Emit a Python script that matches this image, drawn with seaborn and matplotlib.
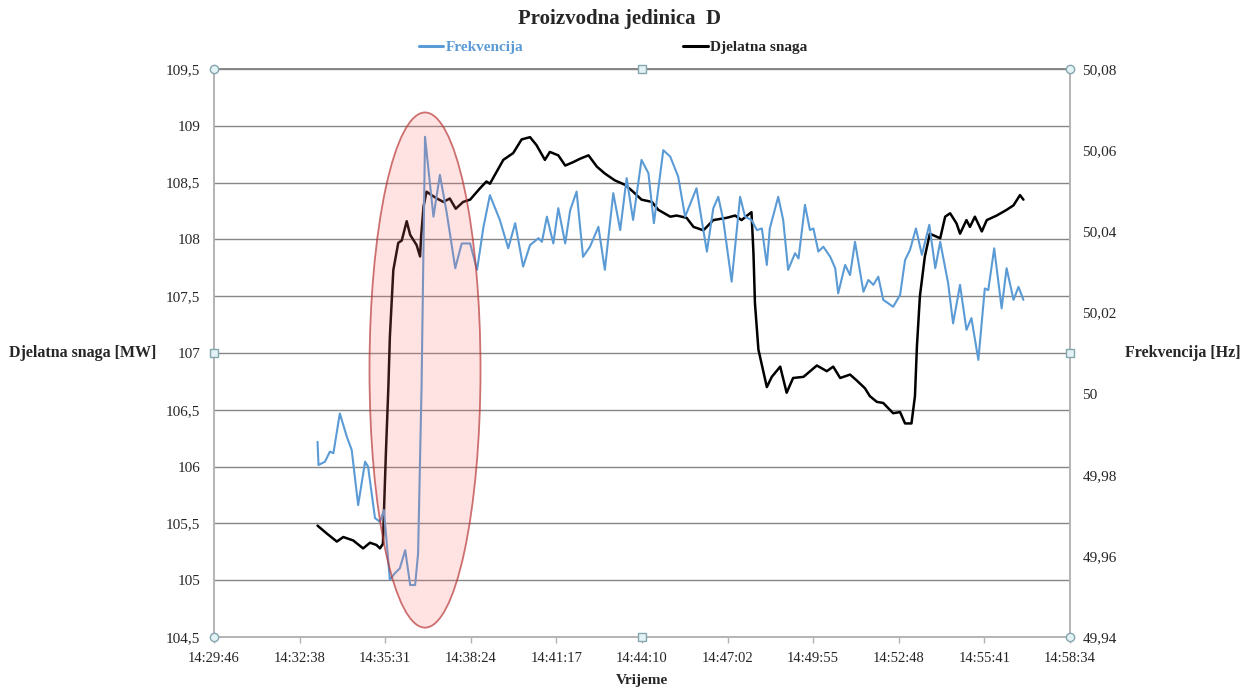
import numpy as np
import pandas as pd
import matplotlib
matplotlib.use("Agg")
import matplotlib.pyplot as plt
import matplotlib.dates as mdates
from matplotlib.patches import Ellipse
from matplotlib.ticker import FixedLocator, MultipleLocator, FuncFormatter
import seaborn as sns

# pocetak osi: 14:29:46 (0,604 dana), korak 0,002 dana
t0 = pd.Timestamp("2000-01-01 14:29:45.6")
x_labels = ["14:29:46", "14:32:38", "14:35:31", "14:38:24", "14:41:17", "14:44:10",
            "14:47:02", "14:49:55", "14:52:48", "14:55:41", "14:58:34"]

# Djelatna snaga [MW] - sekunde od 14:29:46
snaga_t = [209, 228, 248, 261, 281, 301, 315, 328, 335, 341, 343, 347, 352, 355, 362,
           372, 379, 389, 396, 409, 416, 418, 423, 429, 439, 450, 463, 476, 488, 503,
           517, 537, 550, 557, 584, 604, 621, 638, 651, 668, 678, 695, 709, 725, 739,
           756, 773, 789, 809, 830, 846, 863, 884, 897, 921, 934, 954, 968, 988, 1008,
           1035, 1052, 1065, 1085, 1089, 1092, 1099, 1116, 1126, 1143, 1156, 1169, 1190,
           1217, 1237, 1250, 1264, 1284, 1297, 1314, 1324, 1338, 1351, 1371, 1385, 1395,
           1408, 1415, 1419, 1425, 1435, 1445, 1466, 1476, 1486, 1499, 1506, 1519, 1526,
           1536, 1550, 1560, 1580, 1600, 1614, 1627, 1634]
snaga_mw = [105.48, 105.41, 105.34, 105.38, 105.35, 105.28, 105.33, 105.31, 105.28, 105.32,
            105.59, 106.12, 106.70, 107.14, 107.73, 107.97, 107.99, 108.16, 108.04, 107.95,
            107.85, 108.02, 108.29, 108.42, 108.39, 108.36, 108.33, 108.36, 108.27, 108.33,
            108.35, 108.45, 108.51, 108.49, 108.70, 108.76, 108.88, 108.90, 108.83, 108.70,
            108.77, 108.74, 108.65, 108.68, 108.71, 108.74, 108.64, 108.58, 108.52, 108.48,
            108.42, 108.35, 108.33, 108.26, 108.20, 108.21, 108.19, 108.11, 108.08, 108.17,
            108.19, 108.21, 108.17, 108.24, 107.88, 107.44, 107.03, 106.70, 106.79, 106.88,
            106.65, 106.78, 106.79, 106.89, 106.84, 106.88, 106.78, 106.81, 106.76, 106.69,
            106.62, 106.57, 106.56, 106.47, 106.48, 106.38, 106.38, 106.62, 107.06, 107.50,
            107.85, 108.05, 108.01, 108.20, 108.23, 108.14, 108.05, 108.17, 108.11, 108.20,
            108.07, 108.17, 108.21, 108.26, 108.30, 108.39, 108.35]

# Frekvencija [Hz] - sekunde od 14:29:46
frek_t = [209, 211, 224, 234, 241, 254, 268, 278, 291, 305, 311, 325, 335, 343, 355,
          365, 375, 386, 396, 406, 412, 419, 426, 433, 443, 456, 470, 487, 500, 517,
          531, 544, 557, 577, 594, 608, 624, 638, 655, 662, 672, 685, 695, 709, 719,
          732, 745, 759, 776, 789, 806, 820, 833, 846, 863, 877, 888, 907, 921, 937,
          951, 974, 995, 1008, 1018, 1028, 1045, 1062, 1072, 1085, 1096, 1106, 1116, 1122,
          1139, 1149, 1159, 1173, 1180, 1193, 1203, 1210, 1220, 1230, 1244, 1254, 1260,
          1274, 1284, 1294, 1311, 1321, 1331, 1341, 1351, 1371, 1385, 1395, 1405, 1417,
          1429, 1444, 1456, 1466, 1482, 1492, 1506, 1519, 1529, 1543, 1556, 1563, 1575,
          1590, 1600, 1614, 1624, 1634]
frek_hz = [49.9881, 49.9824, 49.9832, 49.9857, 49.9853, 49.9951, 49.9894, 49.9861, 49.9725,
           49.9832, 49.9820, 49.9693, 49.9684, 49.9713, 49.9541, 49.9557, 49.9569, 49.9614,
           49.9528, 49.9528, 49.9606, 50.0017, 50.0633, 50.0551, 50.0436, 50.0539, 50.0444,
           50.0309, 50.0370, 50.0370, 50.0305, 50.0411, 50.0489, 50.0428, 50.0358, 50.0420,
           50.0313, 50.0366, 50.0383, 50.0374, 50.0436, 50.0370, 50.0457, 50.0370, 50.0452,
           50.0498, 50.0337, 50.0362, 50.0411, 50.0305, 50.0494, 50.0403, 50.0531, 50.0428,
           50.0576, 50.0543, 50.0420, 50.0600, 50.0584, 50.0535, 50.0436, 50.0506, 50.0350,
           50.0457, 50.0485, 50.0428, 50.0276, 50.0485, 50.0436, 50.0428, 50.0403, 50.0407,
           50.0317, 50.0407, 50.0485, 50.0428, 50.0305, 50.0346, 50.0333, 50.0465, 50.0403,
           50.0407, 50.0350, 50.0362, 50.0337, 50.0309, 50.0247, 50.0317, 50.0292, 50.0374,
           50.0251, 50.0280, 50.0268, 50.0288, 50.0231, 50.0214, 50.0243, 50.0329, 50.0354,
           50.0407, 50.0342, 50.0416, 50.0309, 50.0374, 50.0272, 50.0173, 50.0268, 50.0157,
           50.0186, 50.0083, 50.0259, 50.0255, 50.0358, 50.0210, 50.0309, 50.0231, 50.0263,
           50.0231]

BLUE = "#5b9bd5"

sns.set_theme(style="white")
plt.rcParams["font.family"] = ["Liberation Serif", "DejaVu Serif"]
plt.rcParams["font.size"] = 10

snaga = pd.DataFrame({"vrijeme": t0 + pd.to_timedelta(snaga_t, unit="s"), "mw": snaga_mw})
frek = pd.DataFrame({"vrijeme": t0 + pd.to_timedelta(frek_t, unit="s"), "hz": frek_hz})

fig = plt.figure(figsize=(12.53, 6.93), dpi=100)
ax = fig.add_axes([214 / 1253, 1 - 637 / 693, 856 / 1253, 568 / 693])
ax2 = ax.twinx()

sns.lineplot(data=snaga, x="vrijeme", y="mw", ax=ax, color="black", linewidth=1.8)
sns.lineplot(data=frek, x="vrijeme", y="hz", ax=ax2, color=BLUE, linewidth=1.5)

ticks = [t0 + pd.Timedelta(seconds=172.8 * k) for k in range(len(x_labels))]
ax.set_xlim(ticks[0], ticks[-1])
ax.xaxis.set_major_locator(FixedLocator(mdates.date2num(ticks)))
ax.set_xticklabels(x_labels)

ax.set_ylim(104.5, 109.5)
ax.yaxis.set_major_locator(MultipleLocator(0.5))
ax2.set_ylim(49.94, 50.08)
ax2.yaxis.set_major_locator(MultipleLocator(0.02))

fmt = FuncFormatter(lambda v, p: "{:g}".format(round(v, 3)).replace(".", ","))
ax.yaxis.set_major_formatter(fmt)
ax2.yaxis.set_major_formatter(fmt)

ax.grid(axis="y", color="#868686", linewidth=1)
ax.grid(axis="x", visible=False)
ax2.grid(False)

for a in (ax, ax2):
    for side in ("left", "right", "bottom"):
        a.spines[side].set_color("#b4b4b4")
        a.spines[side].set_linewidth(1.2)
    a.spines["top"].set_color("#868686")
ax.tick_params(axis="x", length=4, width=1, color="#b4b4b4", direction="out", pad=7,
               labelsize=10.5, bottom=True)
ax.tick_params(axis="y", length=0, pad=10, labelsize=11)
ax2.tick_params(axis="y", length=0, pad=9, labelsize=11)

ax.set_xlabel("Vrijeme", fontweight="bold", fontsize=11)
ax.xaxis.set_label_coords(0.5, -0.077)
ax.xaxis.label.set_va("center")
ax.set_ylabel("Djelatna snaga [MW]", fontweight="bold", fontsize=11.5, rotation=0,
              ha="center", va="center")
ax.yaxis.set_label_coords(-0.153, 0.5)
ax2.set_ylabel("Frekvencija [Hz]", fontweight="bold", fontsize=11.5, rotation=0,
               ha="center", va="center")
ax2.yaxis.set_label_coords(1.132, 0.5)

# istaknuto podrucje
ell = Ellipse((0.2465, 0.47), 0.1297, 0.907, transform=ax2.transAxes,
              facecolor=(1.0, 0.45, 0.45, 0.2), edgecolor=(0.72, 0.22, 0.22, 0.7),
              linewidth=1.3, zorder=5)
ax2.add_patch(ell)

# rucke okvira (odabrani grafikon)
for hx, hy, m in [(0, 0, "o"), (1, 0, "o"), (0, 1, "o"), (1, 1, "o"),
                  (0.5, 0, "s"), (0.5, 1, "s"), (0, 0.5, "s"), (1, 0.5, "s")]:
    ax2.plot([hx], [hy], marker=m, ms=6 if m == "o" else 5.5, mfc="#e3f2f4",
             mec="#86a6ae", mew=1, transform=ax2.transAxes, clip_on=False, zorder=10)

fig.text(620 / 1253, 1 - 19 / 693, "Proizvodna jedinica  D", ha="center", va="center",
         fontsize=15, fontweight="bold")

h_blue = ax2.lines[0]
h_black = ax.lines[0]
leg = fig.legend([h_blue, h_black], ["Frekvencija", "Djelatna snaga"], ncol=2,
                 loc="center", bbox_to_anchor=(613 / 1253, 1 - 47 / 693), frameon=False,
                 handlelength=1.6, handletextpad=0.15, columnspacing=10.5,
                 prop={"weight": "bold", "size": 11, "family": "Liberation Serif"})
leg.get_texts()[0].set_color(BLUE)
for line in leg.get_lines():
    line.set_linewidth(2.2)

fig.savefig("out.png", dpi=100)
